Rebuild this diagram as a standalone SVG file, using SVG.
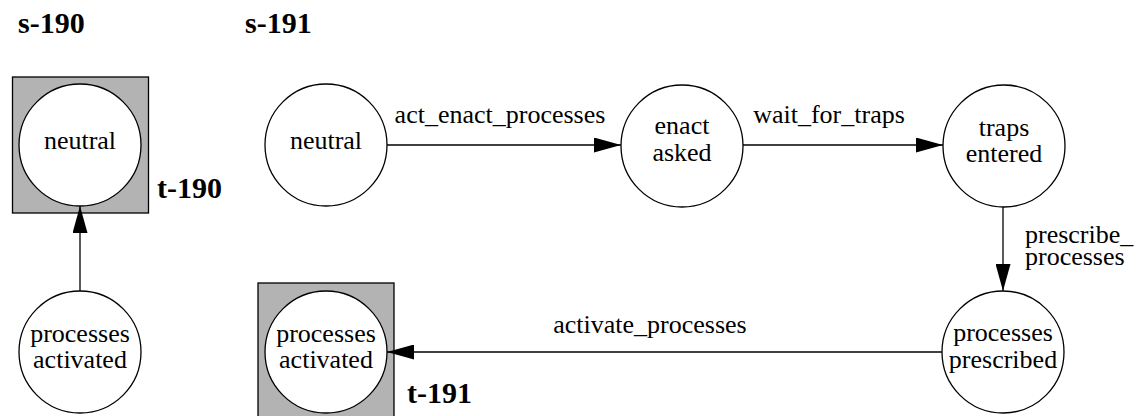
<svg xmlns="http://www.w3.org/2000/svg" width="1139" height="416" viewBox="0 0 1139 416">
<defs>
<style>
.st{fill:#ffffff;stroke:#000;stroke-width:1.3}
.box{fill:#b3b3b3;stroke:#000;stroke-width:1.3}
.t{font-family:"Liberation Serif","Times New Roman",serif;font-size:26px;fill:#000;text-anchor:middle}
.el{font-family:"Liberation Serif","Times New Roman",serif;font-size:26px;fill:#000}
.b{font-family:"Liberation Serif","Times New Roman",serif;font-size:30px;font-weight:bold;fill:#000}
.e{fill:none;stroke:#000;stroke-width:1.3;marker-end:url(#ah)}
</style>
<marker id="ah" viewBox="0 0 27 15" refX="27" refY="7.5" markerWidth="27" markerHeight="15" markerUnits="userSpaceOnUse" orient="auto">
<path d="M0,0 L27,7.5 L0,15 z" fill="#000"/>
</marker>
</defs>
<text class="b" x="18" y="33">s-190</text>
<text class="b" x="245" y="33">s-191</text>
<g id="t-190">
<rect class="box" x="12.5" y="77" width="136" height="136"/>
<circle class="st" cx="80" cy="145" r="61"/>
<text class="t" x="80" y="149">neutral</text>
<text class="b" x="157" y="198">t-190</text>
</g>
<g id="s190-activated">
<circle class="st" cx="80" cy="352" r="61"/>
<text class="t" x="80" y="342">processes</text>
<text class="t" x="80" y="368">activated</text>
</g>
<g id="s191-neutral">
<circle class="st" cx="326" cy="145" r="61"/>
<text class="t" x="326" y="149">neutral</text>
</g>
<g id="enact-asked">
<circle class="st" cx="682" cy="146" r="61"/>
<text class="t" x="682" y="134">enact</text>
<text class="t" x="682" y="161">asked</text>
</g>
<g id="traps-entered">
<circle class="st" cx="1004" cy="146" r="61"/>
<text class="t" x="1004" y="136">traps</text>
<text class="t" x="1004" y="162">entered</text>
</g>
<g id="processes-prescribed">
<circle class="st" cx="1003" cy="352" r="61"/>
<text class="t" x="1003" y="341">processes</text>
<text class="t" x="1003" y="368">prescribed</text>
</g>
<g id="t-191">
<rect class="box" x="258" y="283" width="136" height="136"/>
<circle class="st" cx="326" cy="352" r="61"/>
<text class="t" x="326" y="342">processes</text>
<text class="t" x="326" y="368">activated</text>
<text class="b" x="407" y="403">t-191</text>
</g>
<g id="connectors">
<line class="e" x1="80" y1="291" x2="80" y2="206"/>
<line class="e" x1="387" y1="145" x2="621" y2="145"/>
<text class="el" x="500" y="123" text-anchor="middle">act_enact_processes</text>
<line class="e" x1="743" y1="145" x2="943" y2="145"/>
<text class="el" x="829" y="123" text-anchor="middle">wait_for_traps</text>
<line class="e" x1="1003" y1="207" x2="1003" y2="291"/>
<text class="el" x="1025" y="243">prescribe_</text>
<text class="el" x="1025" y="265">processes</text>
<line class="e" x1="942" y1="352" x2="387" y2="352"/>
<text class="el" x="650" y="333" text-anchor="middle">activate_processes</text>
</g>
</svg>
